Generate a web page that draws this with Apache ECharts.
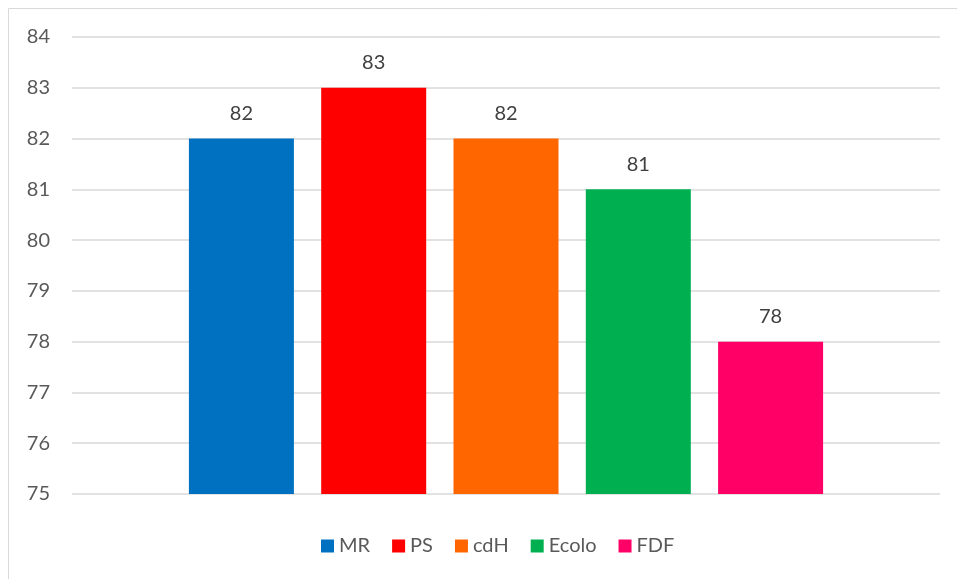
<!DOCTYPE html>
<html><head><meta charset="utf-8">
<script src="https://cdn.jsdelivr.net/npm/echarts@6/dist/echarts.min.js"></script>
<style>html,body{margin:0;padding:0;background:#fff}#c{width:957px;height:579px}</style>
</head><body><div id="c"></div>
<script>
const categories = [''];
const seriesNames = ['MR', 'PS', 'cdH', 'Ecolo', 'FDF'];
const seriesValues = [82, 83, 82, 81, 78];
const seriesColors = ['#0070C0', '#FF0000', '#FF6600', '#00B050', '#FF0066'];
const yMin = 75, yMax = 84, yStep = 1;

const chart = echarts.init(document.getElementById('c'), null, {renderer: 'canvas'});
const font = 'Lato, "Open Sans", sans-serif';
chart.setOption({
  animation: false,
  textStyle: {fontFamily: font},
  graphic: [{type: 'rect', shape: {x: 8.5, y: 8.5, width: 1200, height: 1200},
    style: {fill: 'none', stroke: '#d9d9d9', lineWidth: 1}, silent: true}],
  grid: {left: 72, right: 17, top: 37, bottom: 85},
  legend: {
    bottom: 18, left: 316, itemWidth: 13, itemHeight: 13, itemGap: 22,
    icon: 'rect',
    textStyle: {fontSize: 20, color: '#595959', fontFamily: font},
    data: seriesNames
  },
  xAxis: {type: 'category', data: categories, axisLine: {show: false}, axisTick: {show: false}, axisLabel: {show: false}},
  yAxis: {
    type: 'value', min: yMin, max: yMax, interval: yStep,
    axisLine: {show: false}, axisTick: {show: false},
    axisLabel: {fontSize: 20, color: '#595959', margin: 22, fontFamily: font},
    splitLine: {lineStyle: {color: '#d9d9d9', width: 1.5}}
  },
  series: seriesNames.map((n, i) => ({
    name: n, type: 'bar', barWidth: 105, barGap: '26%',
    itemStyle: {color: seriesColors[i]},
    label: {show: true, position: 'top', distance: 15, fontSize: 20, color: '#404040', fontFamily: font},
    data: [seriesValues[i]]
  }))
});
</script></body></html>
